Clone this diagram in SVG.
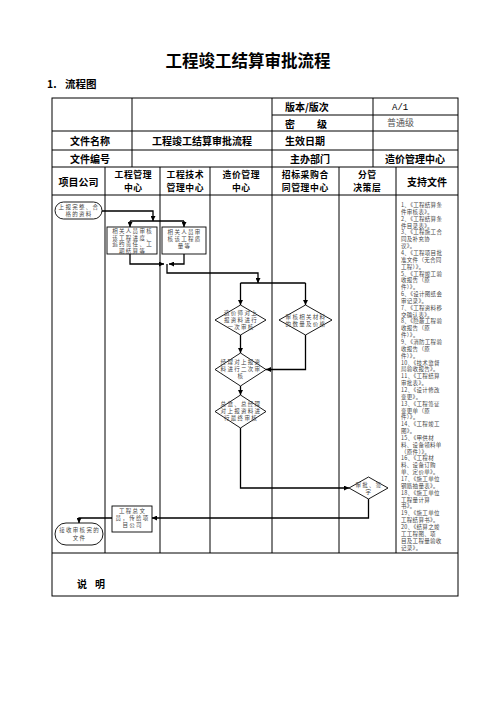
<svg xmlns="http://www.w3.org/2000/svg" width="496" height="702" viewBox="0 0 496 702">
<defs>
<marker id="ah" viewBox="0 0 8 8" refX="8" refY="4" markerWidth="5" markerHeight="5" orient="auto" markerUnits="userSpaceOnUse"><path d="M0,0 L8,4 L0,8 Z" fill="#000"/></marker>
<style>
.ti{font-family:"Noto Sans CJK SC",sans-serif;font-size:16.5px;font-weight:bold;fill:#000;text-anchor:middle}
.sub{font-family:"Noto Sans CJK SC",sans-serif;font-size:10.5px;font-weight:bold;fill:#000}
.h{font-family:"Noto Sans CJK SC",sans-serif;font-size:10px;font-weight:bold;fill:#000;text-anchor:middle;dominant-baseline:central}
.h2{font-family:"Noto Sans CJK SC",sans-serif;font-size:8.8px;font-weight:bold;fill:#000;text-anchor:middle;letter-spacing:0.6px}
.hl{font-family:"Noto Sans CJK SC",sans-serif;font-size:10px;font-weight:bold;fill:#000;dominant-baseline:central}
.n{font-family:"Noto Sans CJK SC",sans-serif;font-size:5.5px;fill:#444;text-anchor:middle;letter-spacing:1.3px}
.r{font-family:"Noto Sans CJK SC",sans-serif;font-size:5.5px;fill:#444;letter-spacing:0.3px}
.ln{stroke:#000;stroke-width:1;fill:none}
.c{stroke:#000;stroke-width:1.3;fill:none}
.s{fill:#fff;stroke:#000;stroke-width:0.9}
</style>
</defs>
<rect width="496" height="702" fill="#fff"/>
<text class="ti" x="248" y="67">工程竣工结算审批流程</text>
<text class="sub" x="47" y="88">1.</text>
<text class="sub" x="65" y="88">流程图</text>

<g id="table">
<rect class="ln" x="52" y="98" width="406" height="498"/>
<line class="ln" x1="272" y1="115" x2="458" y2="115"/>
<line class="ln" x1="52" y1="131" x2="458" y2="131"/>
<line class="ln" x1="52" y1="150" x2="458" y2="150"/>
<line class="ln" x1="52" y1="167" x2="458" y2="167"/>
<line class="ln" x1="52" y1="195" x2="458" y2="195"/>
<line class="ln" x1="52" y1="553" x2="458" y2="553"/>
<line class="ln" x1="132" y1="98" x2="132" y2="167"/>
<line class="ln" x1="272" y1="98" x2="272" y2="167"/>
<line class="ln" x1="373" y1="98" x2="373" y2="167"/>
<line class="ln" x1="105" y1="167" x2="105" y2="553"/>
<line class="ln" x1="160" y1="167" x2="160" y2="553"/>
<line class="ln" x1="210" y1="167" x2="210" y2="553"/>
<line class="ln" x1="272" y1="167" x2="272" y2="553"/>
<line class="ln" x1="339" y1="167" x2="339" y2="553"/>
<line class="ln" x1="396" y1="167" x2="396" y2="553"/>
<text class="hl" x="285" y="106.5">版本/版次</text>
<text x="392" y="109.5" style="font-family:'Liberation Mono',monospace;font-size:9px;fill:#000">A/1</text>
<text class="hl" x="285" y="123">密</text>
<text class="hl" x="317" y="123">级</text>
<text x="387" y="126" style="font-family:'Noto Sans CJK SC',sans-serif;font-size:9px;fill:#555">普通级</text>
<text class="h" x="90" y="140.5">文件名称</text>
<text class="h" x="202" y="140.5">工程竣工结算审批流程</text>
<text class="hl" x="285" y="140.5">生效日期</text>
<text class="h" x="90" y="158.5">文件编号</text>
<text class="hl" x="290" y="158.5">主办部门</text>
<text class="h" x="415" y="158.5">造价管理中心</text>
<text class="h" x="78.5" y="181">项目公司</text>
<text class="h2" x="133" y="177.8"><tspan x="133.3" dy="0">工程管理</tspan><tspan x="133.3" dy="12.8">中心</tspan></text>
<text class="h2" x="185" y="177.8"><tspan x="185.3" dy="0">工程技术</tspan><tspan x="185.3" dy="12.8">管理中心</tspan></text>
<text class="h2" x="241" y="177.8"><tspan x="241.3" dy="0">造价管理</tspan><tspan x="241.3" dy="12.8">中心</tspan></text>
<text class="h2" x="305" y="177.8"><tspan x="305.3" dy="0">招标采购合</tspan><tspan x="305.3" dy="12.8">同管理中心</tspan></text>
<text class="h2" x="367" y="177.8"><tspan x="367.3" dy="0">分管</tspan><tspan x="367.3" dy="12.8">决策层</tspan></text>
<text class="h" x="427" y="181">支持文件</text>
<text class="hl" x="77" y="583">说</text>
<text class="hl" x="95" y="583">明</text>
</g>

<g id="connectors">
<polyline class="c" points="102,211 153,211 153,221" marker-end="url(#ah)"/>
<line class="c" x1="130" y1="221" x2="184" y2="221"/>
<line class="c" x1="130" y1="221" x2="130" y2="227" marker-end="url(#ah)"/>
<line class="c" x1="184" y1="221" x2="184" y2="227" marker-end="url(#ah)"/>
<polyline class="c" points="130,254 130,264 164,264" marker-end="url(#ah)"/>
<polyline class="c" points="184,254 184,264 169,264" marker-end="url(#ah)"/>
<polyline class="c" points="167,264 167,273 258,273 258,283" marker-end="url(#ah)"/>
<line class="c" x1="240.5" y1="283" x2="305.5" y2="283"/>
<line class="c" x1="240.5" y1="283" x2="240.5" y2="305" marker-end="url(#ah)"/>
<line class="c" x1="305.5" y1="283" x2="305.5" y2="305" marker-end="url(#ah)"/>
<line class="c" x1="240.5" y1="335" x2="240.5" y2="353" marker-end="url(#ah)"/>
<polyline class="c" points="305.5,335 305.5,369.5 266,369.5" marker-end="url(#ah)"/>
<line class="c" x1="240.5" y1="386" x2="240.5" y2="395" marker-end="url(#ah)"/>
<polyline class="c" points="240.5,428 240.5,488 349,488" marker-end="url(#ah)"/>
<polyline class="c" points="368.5,499 368.5,518 152,518" marker-end="url(#ah)"/>
<polyline class="c" points="112,518 79,518 79,523" marker-end="url(#ah)"/>
</g>

<g id="n1">
<rect class="s" x="55" y="202" width="47" height="17" rx="8.5"/>
<text class="n" x="79" y="209">上报完整、合</text>
<text class="n" x="79" y="216">格的资料</text>
</g>
<g id="n2">
<rect class="s" x="107" y="227" width="50" height="27"/>
<text class="n" x="132.6" y="233">相关人员审核</text>
<text class="n" x="132.6" y="239.7">该工程进度、</text>
<text class="n" x="132.6" y="246.4">追约责任、工</text>
<text class="n" x="132.6" y="253.1">期结算等</text>
</g>
<g id="n3">
<rect class="s" x="162" y="227" width="44" height="27"/>
<text class="n" x="184.6" y="234">相关人员审</text>
<text class="n" x="184.6" y="241">核该工程质</text>
<text class="n" x="184.6" y="248">量等</text>
</g>
<g id="n4">
<polygon class="s" points="240.5,305 266,320 240.5,335 215,320"/>
<text class="n" x="241" y="315">造价师对上</text>
<text class="n" x="241" y="322">报资料进行</text>
<text class="n" x="241" y="329">一次审核</text>
</g>
<g id="n5">
<polygon class="s" points="305.5,305 332,320 305.5,335 279,320"/>
<text class="n" x="306" y="318.5">审核相关材料</text>
<text class="n" x="306" y="325.5">的数量及价格</text>
</g>
<g id="n6">
<polygon class="s" points="240.5,353 266,369.5 240.5,386 215,369.5"/>
<text class="n" x="241" y="364">经理对上报资</text>
<text class="n" x="241" y="371">料进行二次审</text>
<text class="n" x="241" y="378">核</text>
</g>
<g id="n7">
<polygon class="s" points="240.5,395 266,411.5 240.5,428 215,411.5"/>
<text class="n" x="241" y="406">总监、总经理</text>
<text class="n" x="241" y="413">对上报资料进</text>
<text class="n" x="241" y="420">行最终审核</text>
</g>
<g id="n8">
<polygon class="s" points="368.5,477 388,488 368.5,499 349,488"/>
<text class="n" x="369" y="487">审批、签</text>
<text class="n" x="369" y="494">字</text>
</g>
<g id="n9">
<rect class="s" x="112" y="506" width="40" height="26"/>
<text class="n" x="132.6" y="513">工程总文</text>
<text class="n" x="132.6" y="520">员，传给项</text>
<text class="n" x="132.6" y="527">目公司</text>
</g>
<g id="n10">
<rect class="s" x="55" y="523" width="48" height="22" rx="11"/>
<text class="n" x="79.6" y="532">接收审核完的</text>
<text class="n" x="79.6" y="540">文件</text>
</g>

<g id="docs">
<text class="r" x="401" y="207">
<tspan x="401" dy="0">1、《工程结算条</tspan>
<tspan x="401" dy="6.85">件审核表》。</tspan>
<tspan x="401" dy="6.85">2、《工程结算条</tspan>
<tspan x="401" dy="6.85">件目录表》。</tspan>
<tspan x="401" dy="6.85">3、《工程施工合</tspan>
<tspan x="401" dy="6.85">同及补充协</tspan>
<tspan x="401" dy="6.85">议》。</tspan>
<tspan x="401" dy="6.85">4、《工程项目批</tspan>
<tspan x="401" dy="6.85">准文件（无合同</tspan>
<tspan x="401" dy="6.85">工程）》。</tspan>
<tspan x="401" dy="6.85">5、《工程竣工验</tspan>
<tspan x="401" dy="6.85">收报告（原</tspan>
<tspan x="401" dy="6.85">件）》。</tspan>
<tspan x="401" dy="6.85">6、《设计图纸会</tspan>
<tspan x="401" dy="6.85">审记录》。</tspan>
<tspan x="401" dy="6.85">7、《工程资料移</tspan>
<tspan x="401" dy="6.85">交确认表》。</tspan>
<tspan x="401" dy="6.85">8、《隐蔽工程验</tspan>
<tspan x="401" dy="6.85">收报告（原</tspan>
<tspan x="401" dy="6.85">件）》。</tspan>
<tspan x="401" dy="6.85">9、《消防工程验</tspan>
<tspan x="401" dy="6.85">收报告（原</tspan>
<tspan x="401" dy="6.85">件）》。</tspan>
<tspan x="401" dy="6.85">10、《技术监督</tspan>
<tspan x="401" dy="6.85">局验收报告》。</tspan>
<tspan x="401" dy="6.85">11、《工程结算</tspan>
<tspan x="401" dy="6.85">审批表》。</tspan>
<tspan x="401" dy="6.85">12、《设计修改</tspan>
<tspan x="401" dy="6.85">变更》。</tspan>
<tspan x="401" dy="6.85">13、《工程签证</tspan>
<tspan x="401" dy="6.85">变更单（原</tspan>
<tspan x="401" dy="6.85">件）》。</tspan>
<tspan x="401" dy="6.85">14、《工程竣工</tspan>
<tspan x="401" dy="6.85">图》。</tspan>
<tspan x="401" dy="6.85">15、《甲供材</tspan>
<tspan x="401" dy="6.85">料、设备领料单</tspan>
<tspan x="401" dy="6.85">（原件）》。</tspan>
<tspan x="401" dy="6.85">16、《工程材</tspan>
<tspan x="401" dy="6.85">料、设备订购</tspan>
<tspan x="401" dy="6.85">单、定价单》。</tspan>
<tspan x="401" dy="6.85">17、《施工单位</tspan>
<tspan x="401" dy="6.85">钢筋抽量表》。</tspan>
<tspan x="401" dy="6.85">18、《施工单位</tspan>
<tspan x="401" dy="6.85">工程量计算</tspan>
<tspan x="401" dy="6.85">书》。</tspan>
<tspan x="401" dy="6.85">19、《施工单位</tspan>
<tspan x="401" dy="6.85">工程结算书》。</tspan>
<tspan x="401" dy="6.85">20、《结算之竣</tspan>
<tspan x="401" dy="6.85">工工程图、项</tspan>
<tspan x="401" dy="6.85">目及工程量验收</tspan>
<tspan x="401" dy="6.85">记录》。</tspan>
</text>
</g>
</svg>
